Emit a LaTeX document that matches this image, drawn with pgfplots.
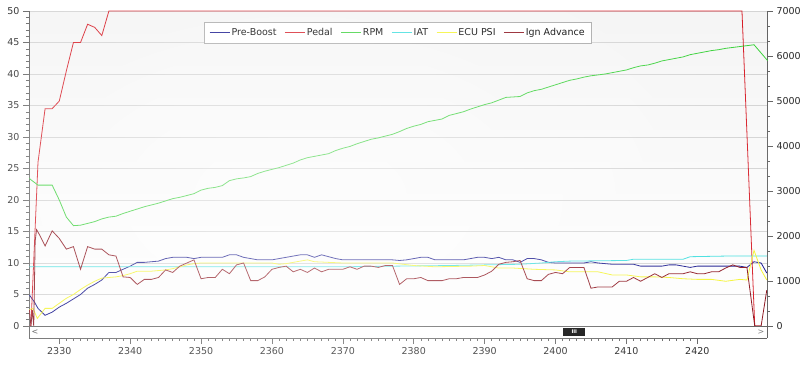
\documentclass[border=0pt]{standalone}
\usepackage{fontspec}
\setmainfont{DejaVu Sans}
\usepackage{pgfplots}
\pgfplotsset{compat=1.18}
\usetikzlibrary{fadings}
\definecolor{cPre}{RGB}{20,20,140}
\definecolor{cPedal}{RGB}{215,30,40}
\definecolor{cRPM}{RGB}{60,210,60}
\definecolor{cIAT}{RGB}{60,222,222}
\definecolor{cECU}{RGB}{245,245,50}
\definecolor{cIgn}{RGB}{140,20,30}
\definecolor{axisgray}{RGB}{100,100,100}
\definecolor{gridgray}{RGB}{212,212,212}
\definecolor{leggray}{RGB}{170,170,170}
\tikzfading[name=glow, inner color=transparent!50, outer color=transparent!100]
\pgfplotsset{
  legend image code/.code={\draw[#1, line width=0.8pt] (0pt,0pt) -- (20pt,0pt);},
  common/.style={
    at={(0pt,0pt)}, anchor=south west,
    width=738pt, height=327pt, scale only axis,
    xmin=2325.73, xmax=2429.83,
    tick align=outside,
    major tick length=6pt, minor tick length=3pt,
    tick style={axisgray, line width=0.6pt},
    axis line style={draw=axisgray, line width=0.8pt, -},
    font=\fontsize{9.5}{11}\selectfont,
    /pgf/number format/assume math mode=true,
    /pgf/number format/1000 sep={},
    ticklabel style={text=black!85},
    clip=false,
  }
}
\begin{document}
\begin{tikzpicture}
\path[use as bounding box] (-29pt,-29pt) rectangle (778pt,338pt);
\begin{axis}[common,
  ymin=-1.905, ymax=50,
  axis y line*=left, axis x line*=bottom,
  xtick={2330,2340,...,2420}, minor x tick num=9,
  ytick={0,5,...,50}, minor y tick num=4,
  ymajorgrids, grid style={draw=gridgray, line width=0.8pt},
  axis background/.style={top color=black!4, bottom color=white},
  legend columns=-1,
  legend style={at={(0.4996,0.9654)}, anchor=north, draw=leggray, fill=white,
    inner xsep=5pt, inner ysep=4.5pt, font=\fontsize{9.5}{11}\selectfont,
    nodes={inner sep=1.5pt},
    /tikz/every even column/.append style={column sep=6.5pt}},
]
\addplot[cPre, line width=0.8pt] coordinates {
(2325.8,4.9)(2326.5,3.8)(2327,2.8)(2328,1.7)(2329,2.2)(2330,3.0)(2331,3.6)(2332,4.3)(2333,5.0)(2334,6.0)(2335,6.6)(2336,7.3)(2337,8.5)(2338,8.5)(2339,9.0)(2340,9.5)(2341,10.1)(2342,10.1)(2343,10.2)(2344,10.3)(2345,10.7)(2346,10.9)(2347,10.9)(2348,10.9)(2349,10.7)(2350,10.9)(2351,10.9)(2352,10.9)(2353,10.9)(2354,11.3)(2355,11.3)(2356,10.9)(2357,10.7)(2358,10.5)(2359,10.5)(2360,10.5)(2361,10.7)(2362,10.9)(2363,11.1)(2364,11.3)(2365,11.3)(2366,10.9)(2367,11.3)(2368,11.0)(2369,10.7)(2370,10.5)(2377,10.5)(2378,10.4)(2379,10.5)(2380,10.7)(2381,10.9)(2382,10.9)(2383,10.5)(2387,10.5)(2388,10.7)(2389,10.9)(2390,10.9)(2391,10.7)(2392,10.9)(2393,10.5)(2394,10.5)(2395,10.1)(2396,10.7)(2397,10.7)(2398,10.5)(2399,10.1)(2400,10.0)(2404,10.0)(2405,10.2)(2406,10.0)(2407,9.9)(2408,9.8)(2411,9.8)(2412,9.5)(2415,9.5)(2416,9.7)(2417,9.7)(2418,9.5)(2419,9.3)(2420,9.5)(2426,9.5)(2427,9.3)(2428,10.2)(2429,10.0)(2429.8,8.4)};
\addlegendentry{Pre-Boost}
\addplot[cPedal, line width=0.8pt] coordinates {
(2325.8,0)(2326,0)(2327,26)(2328,34.5)(2329,34.5)(2330,35.7)(2331,40.5)(2332,45)(2333,45)(2334,47.9)(2335,47.4)(2336,46.1)(2337,50)(2426.3,50)(2428.1,0)(2429,0)};
\addlegendentry{Pedal}
\addlegendimage{cRPM, line width=0.8pt}
\addlegendentry{RPM}
\addplot[cIAT, line width=0.8pt] coordinates {
(2325.8,9.4)(2370,9.4)(2385,9.6)(2395,9.8)(2398,10.0)(2400,10.2)(2402,10.3)(2410,10.4)(2411,10.6)(2418,10.6)(2419,11.0)(2424,11.1)(2429.8,11.1)};
\addlegendentry{IAT}
\addplot[cECU, line width=0.8pt] coordinates {
(2325.8,2.6)(2326.3,2.8)(2326.9,1.2)(2328,2.8)(2329,2.8)(2330,3.6)(2331,4.4)(2332,5.0)(2333,5.8)(2334,6.5)(2335,7.1)(2336,7.6)(2337,7.7)(2338,7.8)(2339,8.0)(2340,8.3)(2341,8.7)(2342,8.7)(2343,8.7)(2344,8.8)(2345,8.9)(2346,9.1)(2347,9.4)(2348,9.7)(2349,9.9)(2350,10.0)(2360,10.0)(2361,9.8)(2362,9.9)(2364,10.3)(2365,10.5)(2366,10.2)(2370,10.0)(2377,10.0)(2380,9.6)(2383,9.4)(2388,9.5)(2390,9.6)(2392,9.2)(2394,9.2)(2397,9.0)(2400,8.9)(2402,8.6)(2406,8.6)(2408,8.1)(2410,8.1)(2412,7.8)(2414,7.8)(2416,7.7)(2418,7.5)(2420,7.4)(2422,7.4)(2424,7.1)(2426,7.4)(2427,7.3)(2428,12.0)(2429,8.9)(2429.8,7.3)};
\addlegendentry{ECU PSI}
\addplot[cIgn, line width=0.8pt] coordinates {
(2325.8,2.5)(2326.0,0)(2326.2,2.5)(2326.4,0)(2326.6,13.5)(2326.8,15.3)(2327.2,14.5)(2328,12.7)(2329,15.1)(2330,13.9)(2331,12.2)(2332,12.6)(2333,9.0)(2334,12.6)(2335,12.2)(2336,12.2)(2337,11.3)(2338,11.1)(2339,7.8)(2340,7.7)(2341,6.6)(2342,7.4)(2343,7.4)(2344,7.7)(2345,8.9)(2346,8.5)(2347,9.5)(2348,10.0)(2349,10.5)(2350,7.5)(2351,7.7)(2352,7.7)(2353,9.0)(2354,8.3)(2355,9.7)(2356,10.0)(2357,7.2)(2358,7.2)(2359,7.8)(2360,9.0)(2361,9.3)(2362,9.5)(2363,8.6)(2364,9.0)(2365,8.5)(2366,9.2)(2367,8.6)(2368,9.0)(2370,9.0)(2371,9.4)(2372,9.0)(2373,9.5)(2374,9.5)(2375,9.3)(2376,9.6)(2377,9.6)(2378,6.6)(2379,7.5)(2380,7.5)(2381,7.7)(2382,7.2)(2383,7.2)(2384,7.2)(2385,7.5)(2386,7.5)(2387,7.7)(2388,7.7)(2389,7.7)(2390,8.1)(2391,8.7)(2392,9.8)(2393,10.1)(2394,10.2)(2395,10.4)(2396,7.5)(2397,7.2)(2398,7.2)(2399,8.2)(2400,8.5)(2401,8.3)(2402,9.3)(2403,9.3)(2404,9.3)(2405,6.0)(2406,6.2)(2407,6.2)(2408,6.2)(2409,7.1)(2410,7.1)(2411,7.7)(2412,7.1)(2413,7.7)(2414,8.3)(2415,7.7)(2416,8.3)(2417,8.3)(2418,8.3)(2419,8.6)(2420,8.3)(2421,8.3)(2422,8.6)(2423,8.6)(2424,9.2)(2425,9.7)(2426,9.3)(2427,9.3)(2428.1,0)(2429,0)(2429.8,5.7)};
\addlegendentry{Ign Advance}
% scrollbar strip
\draw[axisgray, line width=0.8pt] (axis cs:2325.73,0) -- (axis cs:2429.83,0);
\fill[black] (axis cs:2401.1,-0.37) rectangle (axis cs:2404.2,-1.59);
\node[white, font=\fontsize{5}{5}\selectfont\bfseries, inner sep=0pt] at (axis cs:2402.65,-0.98) {III};
\node[black!70, font=\fontsize{8}{8}\selectfont, inner sep=0pt] at (axis cs:2326.57,-0.95) {<};
\node[black!50, font=\fontsize{8}{8}\selectfont, inner sep=0pt] at (axis cs:2428.98,-0.95) {>};
\end{axis}
\begin{axis}[common,
  ymin=-266.67, ymax=7000,
  axis y line*=right, axis x line=none,
  ytick={0,1000,...,7000}, minor y tick num=2,
]
\addplot[cRPM, line width=0.8pt] coordinates {
(2325.8,3280)(2326,3250)(2327,3130)(2328,3130)(2329,3130)(2330,2800)(2331,2420)(2332,2230)(2333,2240)(2334,2280)(2335,2320)(2336,2380)(2337,2420)(2338,2440)(2339,2500)(2340,2550)(2341,2600)(2342,2650)(2343,2690)(2344,2730)(2345,2780)(2346,2830)(2347,2860)(2348,2900)(2349,2940)(2350,3020)(2351,3060)(2352,3080)(2353,3120)(2354,3230)(2355,3270)(2356,3290)(2357,3320)(2358,3390)(2359,3440)(2360,3480)(2361,3520)(2362,3570)(2363,3620)(2364,3690)(2365,3740)(2366,3770)(2367,3800)(2368,3830)(2369,3900)(2370,3950)(2371,3990)(2372,4050)(2373,4100)(2374,4150)(2375,4180)(2376,4220)(2377,4260)(2378,4320)(2379,4390)(2380,4440)(2381,4480)(2382,4540)(2383,4570)(2384,4600)(2385,4680)(2386,4720)(2387,4760)(2388,4820)(2389,4870)(2390,4920)(2391,4960)(2392,5020)(2393,5080)(2394,5090)(2395,5100)(2396,5180)(2397,5230)(2398,5260)(2399,5310)(2400,5360)(2401,5410)(2402,5460)(2403,5490)(2404,5530)(2405,5560)(2406,5580)(2407,5600)(2408,5630)(2409,5660)(2410,5690)(2411,5740)(2412,5780)(2413,5800)(2414,5840)(2415,5890)(2416,5920)(2417,5950)(2418,5980)(2419,6030)(2420,6060)(2421,6090)(2422,6120)(2423,6140)(2424,6170)(2425,6190)(2426,6210)(2427,6230)(2428,6250)(2429.9,5900)};
\end{axis}
\fill[white, path fading=glow] (271pt,140pt) ellipse (520pt and 300pt);
\end{tikzpicture}
\end{document}
